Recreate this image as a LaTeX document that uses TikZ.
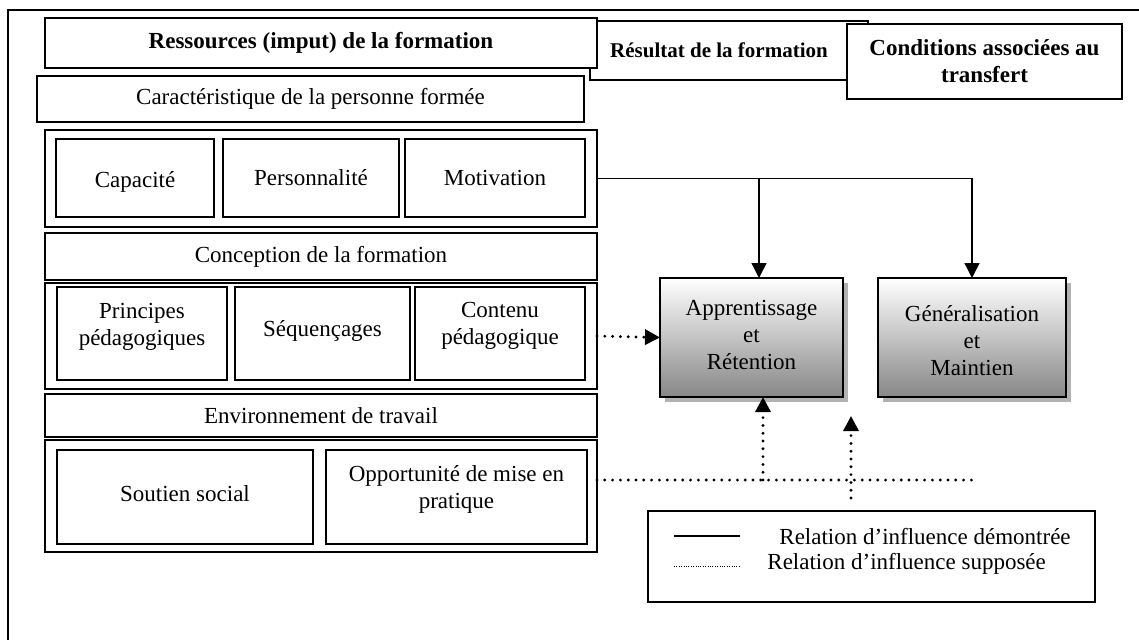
\documentclass[tikz,border=0pt]{standalone}
\usepackage{fontspec}
\setmainfont{Liberation Serif}
\usetikzlibrary{arrows.meta,calc,shadows}
\newcommand{\bx}[7][]{\node[#1, minimum width={(#5-#3)*0.5pt}, minimum height={(#6-#4)*0.5pt}] (#2) at ({(#3+#5)/2},{(#4+#6)/2}) {#7};}
\newcommand{\stk}[2][0pt]{\raisebox{#1}[\height][\depth]{\begin{tabular}{@{}c@{}}#2\end{tabular}}}
\begin{document}
\begin{tikzpicture}[x=0.5pt,y=-0.5pt,
  txt/.style={font=\fontsize{11.5}{13.5}\selectfont},
  box/.style={draw=black,line width=1pt,fill=white,rectangle,inner sep=0pt,outer sep=0pt,align=center,txt},
  hbox/.style={box,font=\bfseries\fontsize{11.5}{13.5}\selectfont},
  sbox/.style={box,font=\bfseries\fontsize{10.5}{12.5}\selectfont},
  gbox/.style={box,top color=white,bottom color=black!47,
    drop shadow={shadow xshift=2.5pt,shadow yshift=-2.5pt,fill=black!30,opacity=1}},
  solidline/.style={line width=0.7pt},
  solidarrow/.style={solidline,-{Triangle[length=7.5pt,width=7.5pt]}},
  dotline/.style={line width=1.6pt,dash pattern=on 0pt off 3.9pt,line cap=round},
  dotarrow/.style={dotline,-{Triangle[length=7.5pt,width=7.5pt]}},
]
\useasboundingbox (0,0) rectangle (1139,639);
% outer frame
\draw[line width=0.75pt] (8,645) |- (1145,10);
% header boxes
\bx[sbox]{res}{590}{21}{868}{80}{\hspace*{-10pt}Résultat de la formation}
\bx[hbox]{ress}{45}{18}{597}{68}{Ressources (imput) de la formation}
\bx[hbox]{cond}{847}{24}{1122}{99}{Conditions associées au\\transfert}
% left column
\bx[box]{cara}{37}{76}{584}{122}{Caractéristique de la personne formée}
\bx[box]{g1}{45}{130}{597}{227}{}
\bx[box]{cap}{56}{139}{214}{217}{\raisebox{-2pt}[\height][\depth]{Capacité}}
\bx[box]{pers}{223}{139}{399}{217}{Personnalité}
\bx[box]{moti}{405}{139}{585}{217}{Motivation}
\bx[box]{conc}{45}{233}{597}{280}{Conception de la formation}
\bx[box]{g2}{45}{283}{597}{389}{}
\bx[box]{prin}{57}{287}{227}{380}{\stk[3.5pt]{Principes\\pédagogiques}}
\bx[box]{sequ}{235}{287}{410}{380}{\raisebox{1.5pt}[\height][\depth]{Séquençages}}
\bx[box]{cont}{415}{287}{585}{380}{\stk[4pt]{Contenu\\pédagogique}}
\bx[box]{envi}{45}{394}{597}{437}{Environnement de travail}
\bx[box]{g3}{45}{440}{597}{552}{}
\bx[box]{sout}{57}{450}{313}{544}{\raisebox{1.5pt}[\height][\depth]{Soutien social}}
\bx[box]{oppo}{326}{450}{587}{544}{\stk[3.5pt]{Opportunité de mise en\\pratique}}
% result boxes
\bx[gbox]{app}{660}{278}{843}{397}{\stk{Apprentissage\\et\\Rétention}}
\bx[gbox]{gen}{878}{278}{1066}{397}{\stk[-3pt]{Généralisation\\et\\Maintien}}
% solid connectors
\coordinate (j1) at ($(g1.east)+(162,0)$);
\draw[solidline] (g1.east) -- (j1);
\draw[solidarrow] (j1) -- (j1 |- app.north);
\draw[solidarrow] (j1) -| (gen.north);
% dotted connectors
\draw[dotarrow] (g2.east) -- (app.west);
\coordinate (d0) at ($(g3.east)+(0,-16)$);
\coordinate (d1) at ($(d0)+(375,0)$);
\coordinate (u1) at ($(d0)+(166,0)$);
\coordinate (u2b) at (851,498);
\coordinate (u2t) at (851,416);
\draw[dotline] (d0) -- (d1);
\draw[dotarrow] (u1) -- (u1 |- app.south);
\draw[dotarrow] (u2b) -- (u2t);
% legend
\bx[box]{leg}{648}{511}{1095}{602}{}
\coordinate (l1a) at (674,536);
\coordinate (l1b) at (740,536);
\coordinate (l2a) at (674,566);
\coordinate (l2b) at (740,566);
\draw[solidline] (l1a) -- (l1b);
\draw[line width=0.5pt,dash pattern=on 0.4pt off 0.8pt] (l2a) -- (l2b);
\node[txt,anchor=west,inner sep=0pt] (t1) at (779,536) {Relation d’influence démontrée};
\node[txt,anchor=west,inner sep=0pt] (t2) at (767,564) {Relation d’influence supposée};
\end{tikzpicture}
\end{document}
